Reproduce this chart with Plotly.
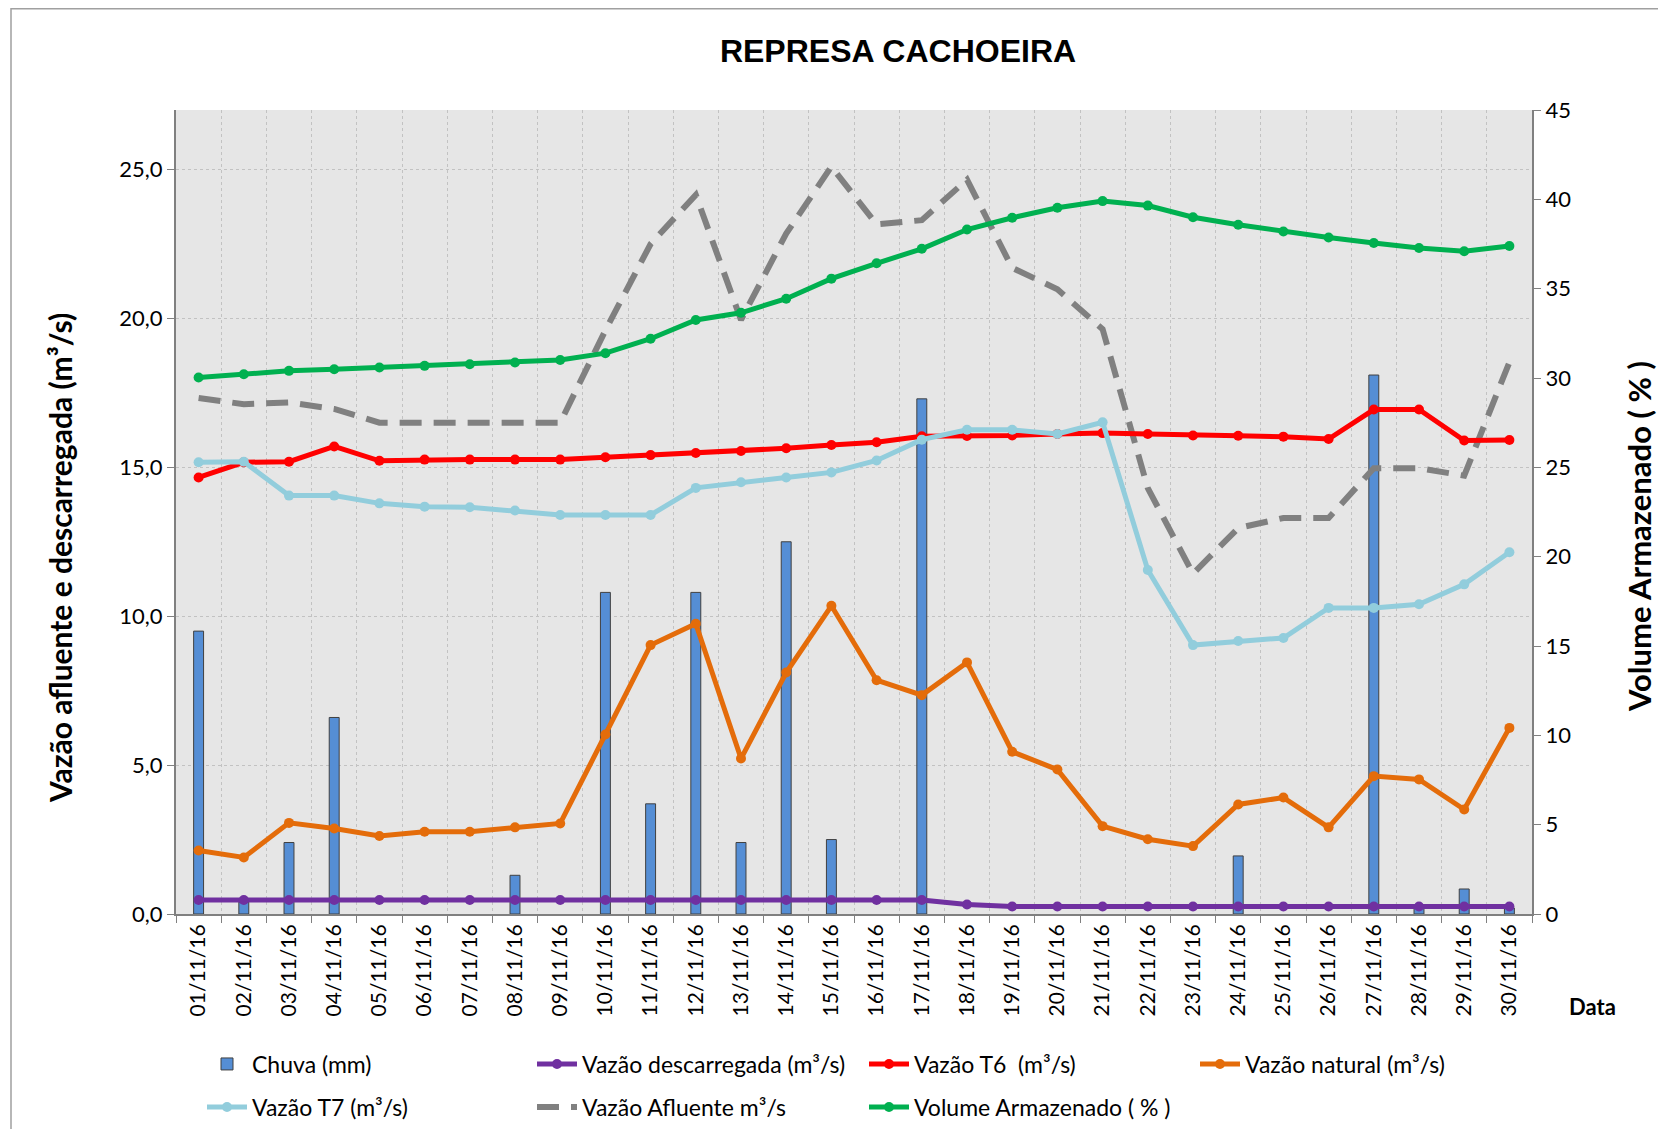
import plotly.graph_objects as go

dates = ["01/11/16", "02/11/16", "03/11/16", "04/11/16", "05/11/16", "06/11/16",
         "07/11/16", "08/11/16", "09/11/16", "10/11/16", "11/11/16", "12/11/16",
         "13/11/16", "14/11/16", "15/11/16", "16/11/16", "17/11/16", "18/11/16",
         "19/11/16", "20/11/16", "21/11/16", "22/11/16", "23/11/16", "24/11/16",
         "25/11/16", "26/11/16", "27/11/16", "28/11/16", "29/11/16", "30/11/16"]

chuva = [9.5, 0.4, 2.4, 6.6, 0, 0, 0, 1.3, 0, 10.8, 3.7, 10.8, 2.4, 12.5, 2.5,
         0, 17.3, 0, 0, 0, 0, 0, 0, 1.95, 0, 0, 18.1, 0.2, 0.84, 0.2]

descarregada = [0.47, 0.47, 0.47, 0.47, 0.47, 0.47, 0.47, 0.47, 0.47, 0.47,
                0.47, 0.47, 0.47, 0.47, 0.47, 0.47, 0.47, 0.32, 0.25, 0.25,
                0.25, 0.25, 0.25, 0.25, 0.25, 0.25, 0.25, 0.25, 0.25, 0.25]

t6 = [14.66, 15.17, 15.19, 15.70, 15.22, 15.26, 15.26, 15.26, 15.26, 15.34,
      15.41, 15.48, 15.55, 15.64, 15.75, 15.84, 16.04, 16.05, 16.07, 16.12,
      16.15, 16.12, 16.07, 16.06, 16.03, 15.95, 16.94, 16.94, 15.90, 15.92]

natural = [2.13, 1.90, 3.06, 2.87, 2.62, 2.76, 2.76, 2.91, 3.04, 6.03,
           9.03, 9.75, 5.22, 8.11, 10.35, 7.85, 7.35, 8.45, 5.45, 4.85,
           2.95, 2.51, 2.28, 3.68, 3.91, 2.91, 4.63, 4.52, 3.51, 6.25]

t7 = [15.17, 15.19, 14.05, 14.05, 13.79, 13.68, 13.66, 13.55, 13.40, 13.40,
      13.40, 14.31, 14.50, 14.66, 14.83, 15.23, 15.93, 16.26, 16.26, 16.12,
      16.51, 11.55, 9.03, 9.17, 9.27, 10.28, 10.28, 10.40, 11.07, 12.15]

afluente = [17.33, 17.12, 17.18, 16.96, 16.50, 16.50, 16.50, 16.50, 16.50, 19.6,
            22.5, 24.15, 19.95, 22.85, 25.1, 23.16, 23.3, 24.66, 21.7, 20.98,
            19.64, 14.3, 11.43, 12.96, 13.3, 13.3, 14.97, 14.97, 14.72, 18.53]

volume = [30.03, 30.21, 30.40, 30.49, 30.59, 30.68, 30.77, 30.87, 31.01, 31.39,
          32.2, 33.25, 33.65, 34.44, 35.56, 36.42, 37.23, 38.31, 38.97, 39.53,
          39.9, 39.65, 39.0, 38.58, 38.2, 37.86, 37.56, 37.28, 37.09, 37.39]

left_ticks = [0, 5, 10, 15, 20, 25]
left_ticktext = ["0,0", "5,0", "10,0", "15,0", "20,0", "25,0"]
right_ticks = [0, 5, 10, 15, 20, 25, 30, 35, 40, 45]

FONT = "Lato"
W, H = 1658, 1121
L, R, T, B = 168, 134, 102, 215
pw, ph = W - L - R, H - T - B


def px(x):
    return (x - L) / pw


def py(y):
    return (H - B - y) / ph


fig = go.Figure()

bar_outline = [1 if v > 0 else 0 for v in chuva]
fig.add_trace(go.Bar(x=dates, y=chuva, name="Chuva (mm)", width=0.22,
                     marker=dict(color="#558ed5", line=dict(color="#404040", width=bar_outline)),
                     legend="legend"))
fig.add_trace(go.Scatter(x=dates, y=afluente, name="Vazão Afluente m³/s", mode="lines",
                         line=dict(color="#808080", width=6, dash="22px,12px"),
                         legend="legend6"))
fig.add_trace(go.Scatter(x=dates, y=t6, name="Vazão T6  (m³/s)", mode="lines+markers",
                         line=dict(color="#ff0000", width=5), marker=dict(size=10),
                         legend="legend3"))
fig.add_trace(go.Scatter(x=dates, y=t7, name="Vazão T7 (m³/s)", mode="lines+markers",
                         line=dict(color="#92cddc", width=5), marker=dict(size=10),
                         legend="legend5"))
fig.add_trace(go.Scatter(x=dates, y=volume, name="Volume Armazenado ( % )", mode="lines+markers",
                         line=dict(color="#00b050", width=5), marker=dict(size=10),
                         yaxis="y2", legend="legend7"))
fig.add_trace(go.Scatter(x=dates, y=natural, name="Vazão natural (m³/s)", mode="lines+markers",
                         line=dict(color="#e46c0a", width=5), marker=dict(size=10),
                         legend="legend4"))
fig.add_trace(go.Scatter(x=dates, y=descarregada, name="Vazão descarregada (m³/s)", mode="lines+markers",
                         line=dict(color="#7030a0", width=5), marker=dict(size=10),
                         legend="legend2"))


def leg(x, y):
    return dict(orientation="h", xref="container", yref="container",
                x=x / W, y=1 - y / H, xanchor="left", yanchor="middle",
                bgcolor="rgba(0,0,0,0)", itemwidth=40,
                font=dict(family=FONT, size=23, color="#000"))


row1, row2 = 1056, 1099
cols = [194, 524, 856, 1187]

fig.update_layout(
    width=W, height=H,
    margin=dict(l=L, r=R, t=T, b=B, autoexpand=False),
    paper_bgcolor="white", plot_bgcolor="#e6e6e6",
    font=dict(family=FONT, size=22, color="#000"),
    title=dict(text="<b>REPRESA CACHOEIRA</b>", x=890 / W, xref="container", xanchor="center",
               y=1 - 43 / H, yref="container", yanchor="middle",
               font=dict(family="Liberation Sans", size=32, color="#000")),
    xaxis=dict(type="category", tickson="boundaries", ticks="outside", ticklen=7,
               tickcolor="#808080", showline=True, linecolor="#808080", linewidth=2,
               showgrid=True, gridcolor="#c2c2c2", griddash="dot", gridwidth=1,
               tickangle=-90, tickfont=dict(family=FONT, size=21), range=[-0.5, 29.5]),
    yaxis=dict(range=[0, 27], tickvals=left_ticks, ticktext=left_ticktext,
               ticks="outside", ticklen=7, tickcolor="#808080",
               showline=True, linecolor="#808080", linewidth=2,
               showgrid=True, gridcolor="#c2c2c2", griddash="dot", gridwidth=1,
               zeroline=False, tickfont=dict(family=FONT, size=22)),
    yaxis2=dict(range=[0, 45], tickvals=right_ticks, overlaying="y", side="right",
                ticks="outside", ticklen=7, tickcolor="#808080",
                showline=True, linecolor="#808080", linewidth=2,
                showgrid=False, zeroline=False, tickfont=dict(family=FONT, size=22)),
    legend=leg(cols[0], row1),
    legend2=leg(cols[1], row1),
    legend3=leg(cols[2], row1),
    legend4=leg(cols[3], row1),
    legend5=leg(cols[0], row2),
    legend6=leg(cols[1], row2),
    legend7=leg(cols[2], row2),
    showlegend=True,
    annotations=[
        dict(text="<b>Vazão afluente e descarregada (m³/s)</b>", xref="paper", yref="paper",
             x=px(52), y=py(550), textangle=-90, showarrow=False,
             font=dict(family=FONT, size=30, color="#000"), xanchor="center", yanchor="middle"),
        dict(text="<b>Volume Armazenado ( % )</b>", xref="paper", yref="paper",
             x=px(1631), y=py(529), textangle=-90, showarrow=False,
             font=dict(family=FONT, size=31, color="#000"), xanchor="center", yanchor="middle"),
        dict(text="<b>Data</b>", xref="paper", yref="paper", x=px(1584), y=py(998),
             showarrow=False, font=dict(family=FONT, size=22, color="#000"),
             xanchor="center", yanchor="middle"),
    ],
    shapes=[
        dict(type="rect", xref="paper", yref="paper", x0=px(3), x1=px(1700),
             y0=py(1160), y1=py(0.8), line=dict(color="#a0a0a0", width=1.5),
             fillcolor="rgba(0,0,0,0)", layer="above"),
    ],
)

fig.write_html("out.html")
